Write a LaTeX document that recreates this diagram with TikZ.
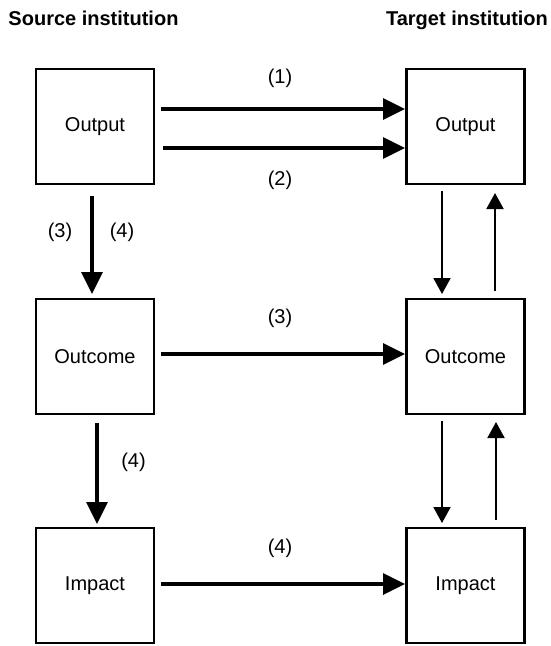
\documentclass[tikz,border=0pt]{standalone}
\usepackage{fontspec}
\setmainfont{Liberation Sans}
\usetikzlibrary{arrows.meta}
\begin{document}
\begin{tikzpicture}[x=1pt,y=-1pt,
  box/.style={draw, line width=2.3pt, minimum width=118pt, minimum height=115pt, font=\fontsize{20}{22}\selectfont, inner sep=0pt},
  lbl/.style={font=\fontsize{20}{22}\selectfont, inner sep=0pt},
  title/.style={font=\bfseries\fontsize{20}{22}\selectfont, inner sep=0pt, anchor=base},
  thick arr/.style={line width=3.5pt, -{Triangle[length=22pt,width=21pt]}},
  thin arr/.style={line width=2pt, -{Triangle[length=16pt,width=17pt]}}]
\useasboundingbox (0,0) rectangle (551,646);
\node[title] (st) at (93.5,25) {Source institution};
\node[title] (tt) at (467,25) {Target institution};
\node[box] (so) at (95,126.5) {Output};
\node[box] (sc) at (95,356.5) {Outcome};
\node[box] (si) at (95,585.5) {Impact};
\node[box] (to) at (465.5,126.5) {Output};
\node[box] (tc) at (465.5,356.5) {Outcome};
\node[box] (ti) at (465.5,585.5) {Impact};
% source to target horizontal
\coordinate (a1s) at (161,109); \coordinate (a1e) at (405,109);
\coordinate (a2s) at (163,148); \coordinate (a2e) at (405,148);
\draw[thick arr] (a1s) -- (a1e);
\draw[thick arr] (a2s) -- (a2e);
\node[lbl] (l1) at (280,78) {(1)};
\node[lbl] (l2) at (280,180) {(2)};
\coordinate (a3s) at (161,354); \coordinate (a3e) at (405,354);
\draw[thick arr] (a3s) -- (a3e);
\node[lbl] (l3) at (280,318) {(3)};
\coordinate (a4s) at (161,584); \coordinate (a4e) at (405,584);
\draw[thick arr] (a4s) -- (a4e);
\node[lbl] (l4) at (280,548) {(4)};
% source verticals
\coordinate (v1s) at (92,196); \coordinate (v1e) at (92,294);
\draw[thick arr] (v1s) -- (v1e);
\node[lbl] (l5) at (60,232) {(3)};
\node[lbl] (l6) at (122,232) {(4)};
\coordinate (v2s) at (97,423); \coordinate (v2e) at (97,524);
\draw[thick arr] (v2s) -- (v2e);
\node[lbl] (l7) at (133.5,462) {(4)};
% target verticals
\coordinate (t1s) at (442,191); \coordinate (t1e) at (442,294);
\draw[thin arr] (t1s) -- (t1e);
\coordinate (t2s) at (495,291); \coordinate (t2e) at (495,193);
\draw[thin arr] (t2s) -- (t2e);
\coordinate (t3s) at (442,421); \coordinate (t3e) at (442,523);
\draw[thin arr] (t3s) -- (t3e);
\coordinate (t4s) at (496,520); \coordinate (t4e) at (496,422);
\draw[thin arr] (t4s) -- (t4e);
\end{tikzpicture}
\end{document}
